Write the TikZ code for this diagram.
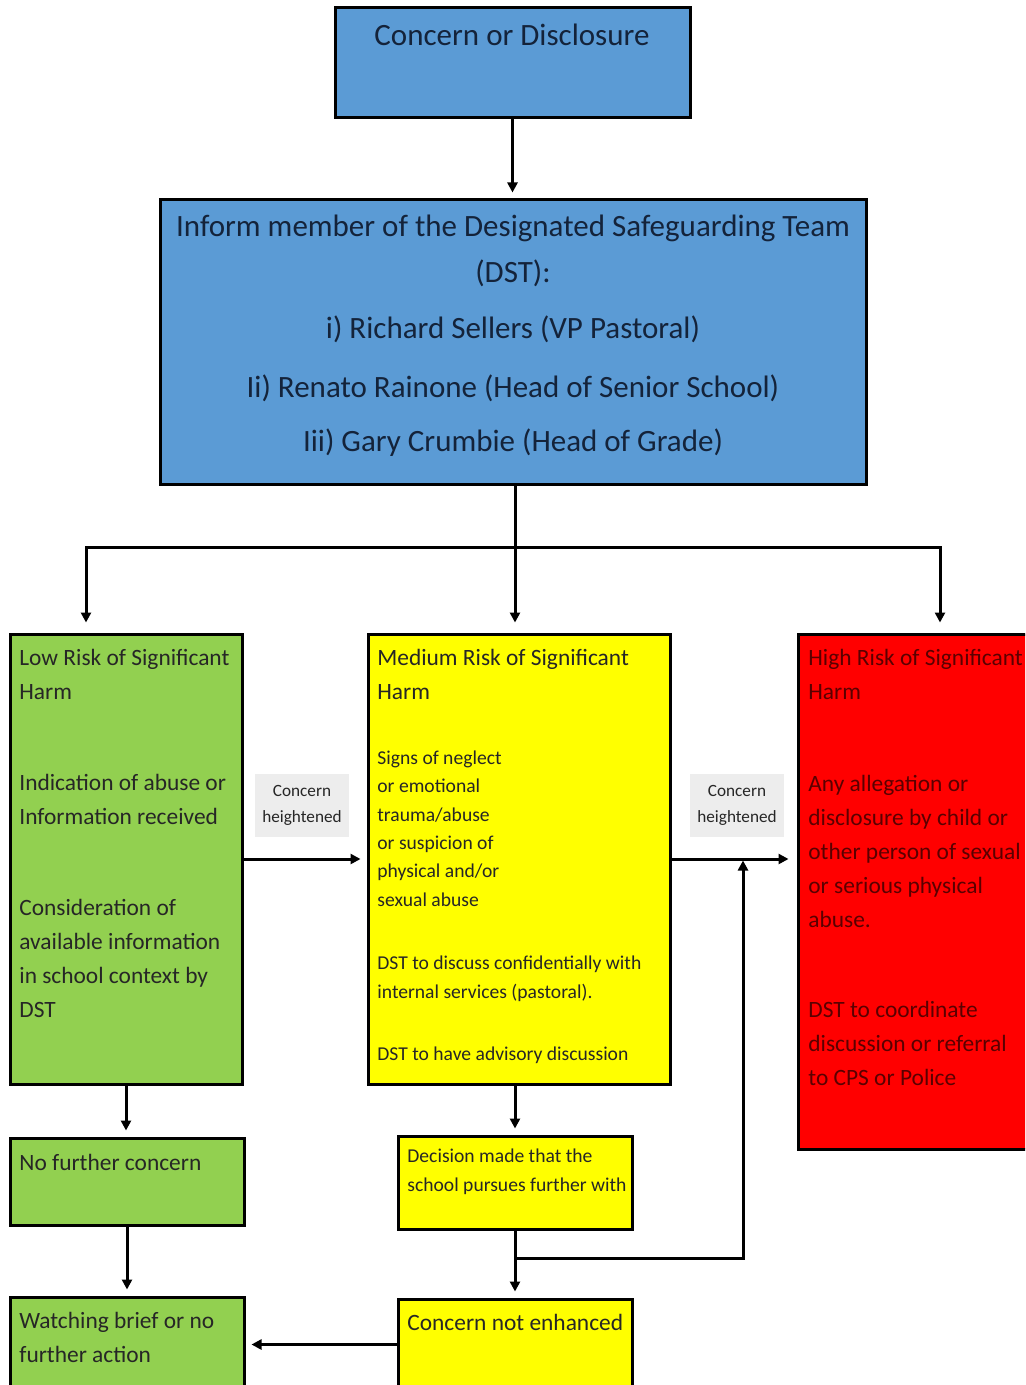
\documentclass[tikz,border=0pt]{standalone}
\usepackage{fontspec}
\setmainfont{Carlito}
\usetikzlibrary{arrows.meta,fit}

\definecolor{dstblue}{HTML}{5B9BD5}
\definecolor{lowgreen}{HTML}{92D050}
\definecolor{medyellow}{HTML}{FFFF00}
\definecolor{highred}{HTML}{FF0000}
\definecolor{taggray}{HTML}{EDEDED}
\definecolor{navyink}{HTML}{14233A}
\definecolor{darkink}{HTML}{262626}
\definecolor{redink}{HTML}{5A0000}

\begin{document}
\begin{tikzpicture}[x=0.5pt, y=-0.5pt,
        box/.style={draw=black, line width=1.5pt, inner sep=0pt},
        arr/.style={line width=1.5pt, -{Triangle[length=5pt,width=5pt]}},
        txt/.style={anchor=base west, inner sep=0pt, align=left, text=darkink},
        big/.style={font=\fontsize{15.5}{28}\selectfont},
        mid/.style={font=\fontsize{11.7}{17}\selectfont},
        small/.style={font=\fontsize{9.8}{14.15}\selectfont},
        tag/.style={fill=taggray, minimum width=47pt, minimum height=31.5pt, inner sep=0pt,
                align=center, text=darkink, font=\fontsize{8.6}{13}\selectfont}]
        \useasboundingbox (0,0) rectangle (1025,1385);
        \clip (0,0) rectangle (1025,1385);

        % boxes
        \node[box, fill=dstblue, fit={(335,8) (690,118)}] (disclose) {};
        \node[box, fill=dstblue, fit={(160,200) (866,484)}] (inform) {};
        \node[box, fill=lowgreen, fit={(10,634) (242,1084)}] (low) {};
        \node[box, fill=medyellow, fit={(368,634) (670,1084)}] (medium) {};
        \node[box, fill=highred, fit={(798,634) (1082,1149)}] (high) {};
        \node[box, fill=lowgreen, fit={(10,1138) (244,1225)}] (nofurther) {};
        \node[box, fill=lowgreen, fit={(10,1297) (244,1392)}] (watch) {};
        \node[box, fill=medyellow, fit={(398,1136) (632,1229)}] (decision) {};
        \node[box, fill=medyellow, fit={(398,1299) (632,1390)}] (notenh) {};
        \node[tag] (tagLow) at (302,805) {Concern\\heightened};
        \node[tag] (tagMed) at (737,805) {Concern\\heightened};

        % texts (multi-line nodes sit on the baseline of their last line)
        \node[txt, big, anchor=base, text=navyink] (discloseText) at (512,46) {Concern or Disclosure};
        \node[txt, big, anchor=base, text=navyink] (informA) at (513,237) {Inform member of the Designated Safeguarding Team};
        \node[txt, big, anchor=base, text=navyink] (informB) at (513,283) {(DST):};
        \node[txt, big, anchor=base, text=navyink] (informC) at (513,339) {i) Richard Sellers (VP Pastoral)};
        \node[txt, big, anchor=base, text=navyink] (informD) at (513,397) {Ii) Renato Rainone (Head of Senior School)};
        \node[txt, big, anchor=base, text=navyink] (informE) at (513,451) {Iii) Gary Crumbie (Head of Grade)};

        \node[txt, mid] (lowTitle) at (19,699) {Low Risk of Significant\\Harm};
        \node[txt, mid] (lowInd) at (19,824) {Indication of abuse or\\Information received};
        \node[txt, mid] (lowCons) at (19,1017) {Consideration of\\available information\\in school context by\\DST};

        \node[txt, mid] (medTitle) at (377,699) {Medium Risk of Significant\\Harm};
        \node[txt, small] (medSigns) at (377,906) {Signs of neglect\\or emotional\\trauma/abuse\\or suspicion of\\physical and/or\\sexual abuse};
        \node[txt, small] (medDisc) at (377,998) {DST to discuss confidentially with\\internal services (pastoral).};
        \node[txt, small] (medAdv) at (377,1060) {DST to have advisory discussion};

        \node[txt, mid, text=redink] (highTitle) at (808,699) {High Risk of Significant\\Harm};
        \node[txt, mid, text=redink] (highAny) at (808,927) {Any allegation or\\disclosure by child or\\other person of sexual\\or serious physical\\abuse.};
        \node[txt, mid, text=redink] (highDst) at (808,1085) {DST to coordinate\\discussion or referral\\to CPS or Police};

        \node[txt, mid] (nofurtherText) at (19,1170) {No further concern};
        \node[txt, mid] (watchText) at (19,1362) {Watching brief or no\\further action};
        \node[txt, small] (decisionText) at (407,1191) {Decision made that the\\school pursues further with};
        \node[txt, mid] (notenhText) at (407,1330) {Concern not enhanced};

        % connectors
        \coordinate (split) at (515,547);
        \coordinate (loop) at (743,1258);
        \draw[arr, shorten >=3pt] (disclose.south) -- (disclose.south |- inform.north);
        \draw[line width=1.5pt] (split |- inform.south) -- (split);
        \draw[arr, shorten >=5pt] (split) -| ([xshift=-20pt]low.north);
        \draw[arr, shorten >=5pt] (split) -- (split |- medium.north);
        \draw[arr, shorten >=5pt] (split) -| (high.north);
        \draw[arr, shorten >=3pt] (low.east) -- (medium.west);
        \draw[arr, shorten >=4pt] (medium.east) -- (medium.east -| high.west);
        \draw[arr, shorten >=3pt] (low.south) -- (low.south |- nofurther.north);
        \draw[arr, shorten >=3pt] (nofurther.south) -- (nofurther.south |- watch.north);
        \draw[arr, shorten >=3pt] (decision.north |- medium.south) -- (decision.north);
        \draw[arr, shorten >=3pt] (decision.south) -- (notenh.north);
        \draw[arr, shorten >=0.75pt] (decision.south |- loop) -- (loop) -- (loop |- medium.east);
        \draw[arr, shorten >=3pt] (notenh.west) -- (notenh.west -| watch.east);
\end{tikzpicture}
\end{document}
